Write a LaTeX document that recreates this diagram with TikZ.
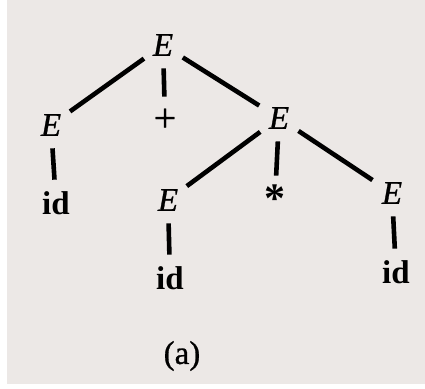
\documentclass[tikz,border=0pt]{standalone}
\usepackage{fontspec}
\setmainfont{Liberation Serif}
\newfontface\inkit{Liberation Serif Italic}[FakeBold=0.8]
\newfontface\inkrm{Liberation Serif}[FakeBold=0.8]
\usepackage{tikz}

\definecolor{paper}{HTML}{ECE8E6}

\begin{document}
\begin{tikzpicture}[x=0.5pt, y=-0.5pt,
    every node/.style={font=\fontsize{16.5}{18}\selectfont},
    sym/.style={circle, minimum size=23pt, inner sep=0pt},
    edge/.style={line width=2.3pt}]
  \useasboundingbox (0,0) rectangle (425,388);
  \fill[white] (0,0) rectangle (425,388);
  \fill[paper] (7,0) rectangle (425,384);

  \node[sym] (E0) at (163,45) {\inkit E};
  \node[sym] (E1) at (51,125) {\inkit E};
  \node[sym, font=\fontsize{20}{22}\selectfont] (plus) at (165,120) {\inkrm +};
  \node[sym] (E2) at (279,118) {\inkit E};
  \node[sym] (id1) at (56,203) {\textbf{id}};
  \node[sym] (E3) at (168,200) {\inkit E};
  \node[sym, font=\fontsize{21}{22}\selectfont] (star) at (275,199) {\textbf{*}};
  \node[sym] (E4) at (392,193) {\inkit E};
  \node[sym] (id2) at (170,278) {\textbf{id}};
  \node[sym] (id3) at (396,272) {\textbf{id}};

  \draw[edge] (E0) -- (E1);
  \draw[edge] (E0) -- (plus);
  \draw[edge] (E0) -- (E2);
  \draw[edge] (E1) -- (id1);
  \draw[edge] (E2) -- (E3);
  \draw[edge] (E2) -- (star);
  \draw[edge] (E2) -- (E4);
  \draw[edge] (E3) -- (id2);
  \draw[edge] (E4) -- (id3);

  \node (cap) at (182,356) {\inkrm (a)};
\end{tikzpicture}
\end{document}
